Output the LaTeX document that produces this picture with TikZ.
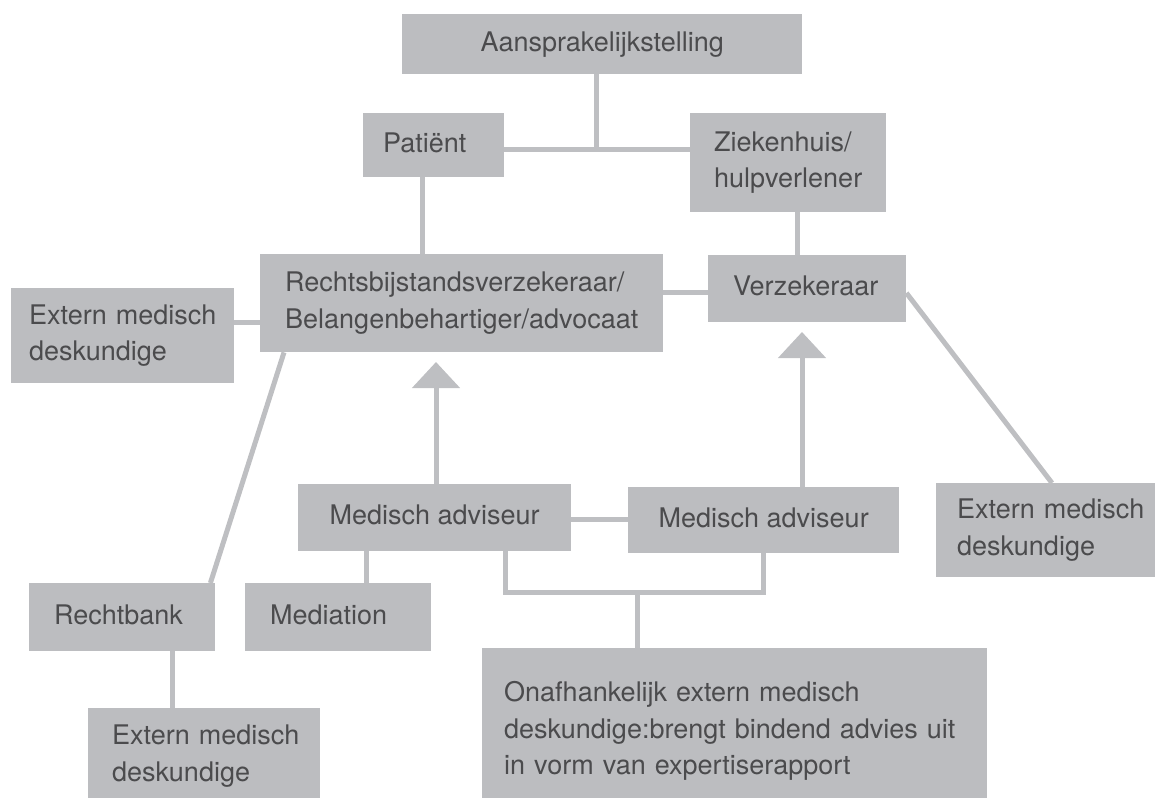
\documentclass[tikz,border=0pt]{standalone}
\usepackage{fontspec}
\setmainfont{TeX Gyre Heros}
\usetikzlibrary{arrows.meta,calc}
\definecolor{boxgray}{RGB}{188,189,192}
\definecolor{linegray}{RGB}{190,191,194}
\definecolor{txtgray}{RGB}{75,75,77}
\newcommand{\myph}{\vphantom{Ag}}
\begin{document}
\begin{tikzpicture}[x=1pt,y=-1pt,
  box/.style={fill=boxgray, text=txtgray, anchor=north west, inner sep=0pt,
    font={\fontsize{27}{36.5}\selectfont\hyphenpenalty=10000\exhyphenpenalty=10000}},
  lbox/.style 2 args={box, align=left, text width=#1,
    execute at begin node={\parindent=0pt\leftskip=#2}},
  cbox/.style={box, align=center, minimum width=#1},
  conn/.style={draw=linegray, line width=5pt},
  arr/.style={conn, -{Triangle[width=47pt,length=26pt]}}
]
\useasboundingbox (0,0) rectangle (1155,797);
\clip (0,0) rectangle (1155,797);

% boxes
\node[cbox=400pt, minimum height=60pt] (aan) at (402,14) {Aansprakelijkstelling};
\node[lbox={141pt}{20pt}, minimum height=64pt] (pat) at (363,113) {Patiënt\myph};
\node[lbox={196pt}{24pt}, minimum height=99pt] (zie) at (690,113) {Ziekenhuis/\\hulpverlener};
\node[lbox={403pt}{25pt}, minimum height=98pt] (rech) at (260,254) {Rechtsbijstandsverzekeraar/\\Belangenbehartiger/advocaat};
\node[lbox={198pt}{25pt}, minimum height=67pt] (verz) at (708,255) {Verzekeraar\myph};
\node[lbox={223pt}{18pt}, minimum height=95pt] (extL) at (11,288) {Extern medisch\\deskundige};
\node[cbox=273pt, minimum height=67pt] (medL) at (298,484) {Medisch adviseur\myph};
\node[cbox=271pt, minimum height=66pt] (medR) at (628,487) {Medisch adviseur\myph};
\node[lbox={219pt}{21pt}, minimum height=94pt] (extR) at (936,483) {Extern medisch\\deskundige};
\node[lbox={186pt}{25pt}, minimum height=68pt] (rbank) at (29,583) {Rechtbank\myph};
\node[lbox={186pt}{25pt}, minimum height=68pt] (med) at (245,583) {Mediation\myph};
\node[lbox={232pt}{24pt}, minimum height=96pt] (extB) at (88,708) {Extern medisch\\deskundige};
\node[lbox={505pt}{22pt}, minimum height=166pt] (onaf) at (482,648) {Onafhankelijk extern medisch\\deskundige:brengt bindend advies uit\\in vorm van expertiserapport};

% connectors
\coordinate (j1) at (596,149);
\draw[conn] (aan.south -| j1) -- (j1);
\draw[conn] (pat.east |- j1) -- (zie.west |- j1);
\coordinate (x1) at (422,0);
\draw[conn] (pat.south -| x1) -- (rech.north -| x1);
\coordinate (x2) at (797,0);
\draw[conn] (zie.south -| x2) -- (verz.north -| x2);
\coordinate (y1) at (0,292);
\draw[conn] (rech.east |- y1) -- (verz.west |- y1);
\coordinate (y2) at (0,322);
\draw[conn] (extL.east |- y2) -- (rech.west |- y2);
\draw[conn] ($(rech.south west)+(24,0)$) -- ($(rbank.north east)+(-5,0)$);
\coordinate (x3) at (172,0);
\draw[conn] (rbank.south -| x3) -- (extB.north -| x3);
\draw[conn] ($(verz.north east)+(0,38)$) -- ($(extR.north west)+(116,0)$);
\coordinate (y3) at (0,519);
\draw[conn] (medL.east |- y3) -- (medR.west |- y3);
\coordinate (x4) at (366,0);
\draw[conn] (medL.south -| x4) -- (med.north -| x4);
\coordinate (b1) at (505,592);
\coordinate (b2) at (763,592);
\coordinate (b3) at (637,592);
\draw[conn] (medL.south -| b1) -- (b1) -- (b2) -- (medR.south -| b2);
\draw[conn] (b3) -- (onaf.north -| b3);
\coordinate (t1) at (436,362);
\draw[arr] (medL.north -| t1) -- (t1);
\coordinate (t2) at (802,332);
\draw[arr] (medR.north -| t2) -- (t2);
\end{tikzpicture}
\end{document}
